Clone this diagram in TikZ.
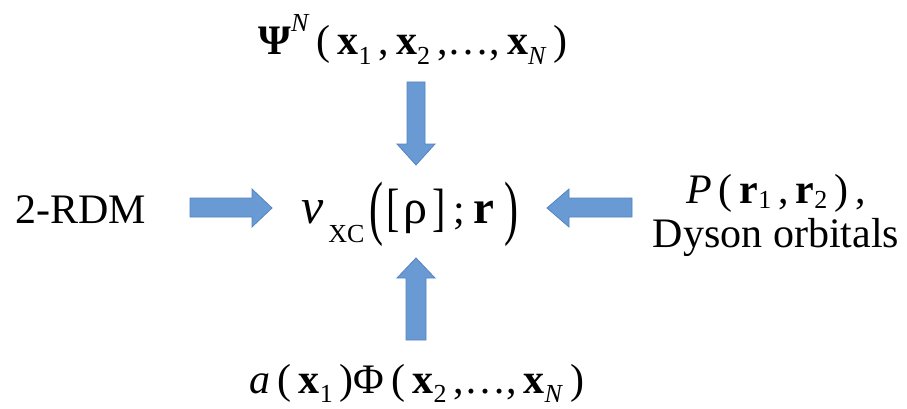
\documentclass[tikz,border=0pt]{standalone}
\usepackage{fontspec}
\setmainfont{Liberation Serif}
\definecolor{arrowfill}{HTML}{6A9AD4}
\definecolor{arrowline}{HTML}{5584C0}
\newcommand\msub[1]{\raisebox{-0.22em}{\fontsize{26}{28}\selectfont #1}}
\newcommand\lsub[1]{\raisebox{-0.14em}{\fontsize{26}{28}\selectfont #1}}
\newcommand\msup[1]{\raisebox{0.55em}{\fontsize{26}{28}\selectfont #1}}
\newcommand\bx{\textbf{x}}
\newcommand\tallparen[1]{\raisebox{-8pt}{\scalebox{1}[1.7]{#1}}}
\newcommand\tallbrack[1]{\raisebox{-2pt}{\scalebox{0.95}[1.25]{#1}}}
\begin{document}
\begin{tikzpicture}[x=1pt,y=-1pt,
  lbl/.style={inner sep=0pt, font=\fontsize{42}{48}\selectfont},
  blockarrow/.style={fill=arrowfill, draw=arrowline, line width=0.8pt, line join=miter}]
\useasboundingbox (0,0) rectangle (907,409);

% texts
\node[lbl, anchor=base] (psi) at (413,55)
  {\textbf{Ψ}\msup{\textit{N}}\,(\,\bx\msub{1}\,,\,\bx\msub{2}\,,…,\,\bx\msub{\textit{N}}\,)};
\node[lbl, anchor=base west] (vxc) at (301,223)
  {{\fontsize{50}{56}\selectfont\textit{v}}\hspace{5pt}\raisebox{-19pt}{\fontsize{26}{28}\selectfont XC}\hspace{5pt}\tallparen{(}\hspace{3pt}\tallbrack{[}\hspace{4pt}{\fontsize{48}{52}\selectfont ρ}\hspace{5pt}\tallbrack{]}\hspace{7pt};\hspace{9pt}{\fontsize{47}{52}\selectfont\textbf{r}}\hspace{10pt}\tallparen{)}};
\node[lbl, anchor=base] (aphi) at (417,393)
  {\textit{a}\,(\,\bx\msub{1}\,)Φ\,(\,\bx\msub{2}\,,…,\,\bx\msub{\textit{N}}\,)};
\node[lbl, anchor=base west] (rdm) at (15,223) {2-RDM};
\node[lbl, anchor=base] (pr) at (776,203)
  {\textit{P}\,(\,\textbf{r}\lsub{1}\,,\,\textbf{r}\lsub{2}\,)\,,};
\node[lbl, anchor=base] (dyson) at (776,247) {Dyson orbitals};

% block arrows
\filldraw[blockarrow] (407,82) -- (425,82) -- (425,144) -- (435,144) -- (416,165)
  -- (397,144) -- (407,144) -- cycle;
\filldraw[blockarrow] (406,340) -- (426,340) -- (426,278) -- (435,278) -- (416,258)
  -- (397,278) -- (406,278) -- cycle;
\filldraw[blockarrow] (190,198) -- (252,198) -- (252,189) -- (272,208) -- (252,227)
  -- (252,217) -- (190,217) -- cycle;
\filldraw[blockarrow] (632,198) -- (569,198) -- (569,189) -- (547,208) -- (569,227)
  -- (569,217) -- (632,217) -- cycle;
\end{tikzpicture}
\end{document}
